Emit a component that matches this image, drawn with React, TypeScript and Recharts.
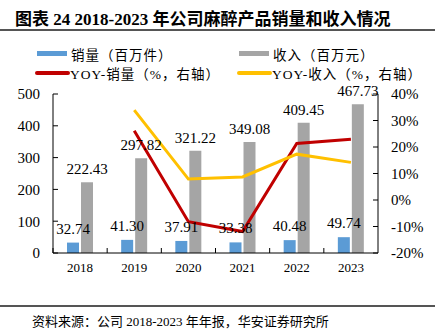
import { ComposedChart, Bar, Line, XAxis, YAxis, LabelList } from 'recharts';

// 年份与数据（销量 百万件，收入 百万元，同比 %）
const years = ['2018', '2019', '2020', '2021', '2022', '2023'];
const volume = [32.74, 41.3, 37.91, 33.38, 40.48, 49.74];
const revenue = [222.43, 297.82, 321.22, 349.08, 409.45, 467.73];
const yoyVolume = [null, 26.1, -8.2, -11.9, 21.3, 22.9];
const yoyRevenue = [null, 33.9, 7.9, 8.7, 17.3, 14.2];
const leftTicks = [0, 100, 200, 300, 400, 500];
const rightTicks = [-20, -10, 0, 10, 20, 30, 40];

const data = years.map((year, i) => ({
  year,
  volume: volume[i],
  revenue: revenue[i],
  yoyVolume: yoyVolume[i],
  yoyRevenue: yoyRevenue[i],
}));

const BLUE = '#5B9BD5';
const GRAY = '#A5A5A5';
const RED = '#C00000';
const GOLD = '#FFC000';
const SERIF = '"Liberation Serif", "Times New Roman", "Noto Sans CJK SC", serif';
const CJK = '"Liberation Serif", "Noto Sans CJK SC", serif';

// x 轴刻度：标签居中，刻度线落在类目分界处（向内）
function YearTick(props: any) {
  const { x, y, payload, width, visibleTicksCount } = props;
  const half = width / visibleTicksCount / 2;
  return (
    <g>
      <line x1={x - half} y1={y} x2={x - half} y2={y - 5} stroke="#000" strokeWidth={1} />
      <text x={x} y={y + 19} textAnchor="middle" fontSize={13} fontFamily={SERIF} fill="#000">
        {payload.value}
      </text>
    </g>
  );
}

function LegendItem({ color, label, thick, line }: { color: string; label: string; thick: number; line?: boolean }) {
  return (
    <div style={{ display: 'flex', alignItems: 'center', height: 19 }}>
      <span
        style={{
          width: line ? 35 : 30, height: thick, background: color, borderRadius: line ? 2 : 0,
          marginLeft: line ? -2 : 0, marginRight: line ? 0 : 4,
        }}
      />
      <span style={{ fontSize: 13.5, fontFamily: CJK, color: '#000', whiteSpace: 'nowrap', letterSpacing: 1 }}>
        {label}
      </span>
    </div>
  );
}

export default function App() {
  return (
    <div style={{ position: 'fixed', left: 0, top: 0, width: 435, height: 330, background: '#fff', overflow: 'hidden' }}>
      <div
        style={{
          position: 'absolute', left: 15, top: 5, fontSize: 17, fontWeight: 'bold',
          fontFamily: CJK, color: '#000', whiteSpace: 'nowrap',
        }}
      >
        图表 24 2018-2023 年公司麻醉产品销量和收入情况
      </div>
      <div style={{ position: 'absolute', left: 0, top: 29, width: 435, height: 1.5, background: '#555' }} />

      <div style={{ position: 'absolute', left: 37, top: 44 }}>
        <LegendItem color={BLUE} label="销量（百万件）" thick={5} />
        <LegendItem color={RED} label="YOY-销量（%，右轴）" thick={4} line />
      </div>
      <div style={{ position: 'absolute', left: 239, top: 44 }}>
        <LegendItem color={GRAY} label="收入（百万元）" thick={5} />
        <LegendItem color={GOLD} label="YOY-收入（%，右轴）" thick={4} line />
      </div>

      <div style={{ position: 'absolute', left: 0, top: 0 }}>
        <ComposedChart
          width={435}
          height={330}
          data={data}
          margin={{ top: 94, right: 0, bottom: 47, left: 0 }}
          barGap={2}
        >
          <XAxis
            dataKey="year"
            axisLine={{ stroke: '#000' }}
            tickLine={false}
            tickSize={0}
            tickMargin={0}
            height={30}
            tick={<YearTick />}
            interval={0}
          />
          <YAxis
            yAxisId="left"
            width={53}
            domain={[0, 500]}
            ticks={leftTicks}
            axisLine={{ stroke: '#000' }}
            tickLine={{ stroke: '#000' }}
            tickSize={-5}
            tickMargin={18}
            tick={{ fontSize: 15, fontFamily: SERIF, fill: '#000' }}
          />
          <YAxis
            yAxisId="right"
            orientation="right"
            width={57}
            domain={[-20, 40]}
            ticks={rightTicks}
            tickFormatter={(v: number) => `${v}%`}
            axisLine={{ stroke: '#000' }}
            tickLine={{ stroke: '#000' }}
            tickSize={-5}
            tickMargin={18}
            tick={{ fontSize: 15, fontFamily: SERIF, fill: '#000' }}
          />
          <Bar yAxisId="left" dataKey="volume" fill={BLUE} barSize={12} isAnimationActive={false}>
            <LabelList
              dataKey="volume"
              position="top"
              offset={9}
              formatter={(v: number) => v.toFixed(2)}
              style={{ fontSize: 15, fontFamily: SERIF, fill: '#000' }}
            />
          </Bar>
          <Bar yAxisId="left" dataKey="revenue" fill={GRAY} barSize={12} isAnimationActive={false}>
            <LabelList
              dataKey="revenue"
              position="top"
              offset={8}
              formatter={(v: number) => v.toFixed(2)}
              style={{ fontSize: 15, fontFamily: SERIF, fill: '#000' }}
            />
          </Bar>
          <Line
            yAxisId="right"
            dataKey="yoyVolume"
            stroke={RED}
            strokeWidth={3}
            dot={false}
            isAnimationActive={false}
          />
          <Line
            yAxisId="right"
            dataKey="yoyRevenue"
            stroke={GOLD}
            strokeWidth={3}
            dot={false}
            isAnimationActive={false}
          />
        </ComposedChart>
      </div>

      <div style={{ position: 'absolute', left: 0, top: 305, width: 435, height: 1.5, background: '#555' }} />
      <div
        style={{
          position: 'absolute', left: 32, top: 311, fontSize: 13, fontFamily: CJK,
          color: '#000', whiteSpace: 'nowrap',
        }}
      >
        资料来源：公司 2018-2023 年年报，华安证券研究所
      </div>
    </div>
  );
}
